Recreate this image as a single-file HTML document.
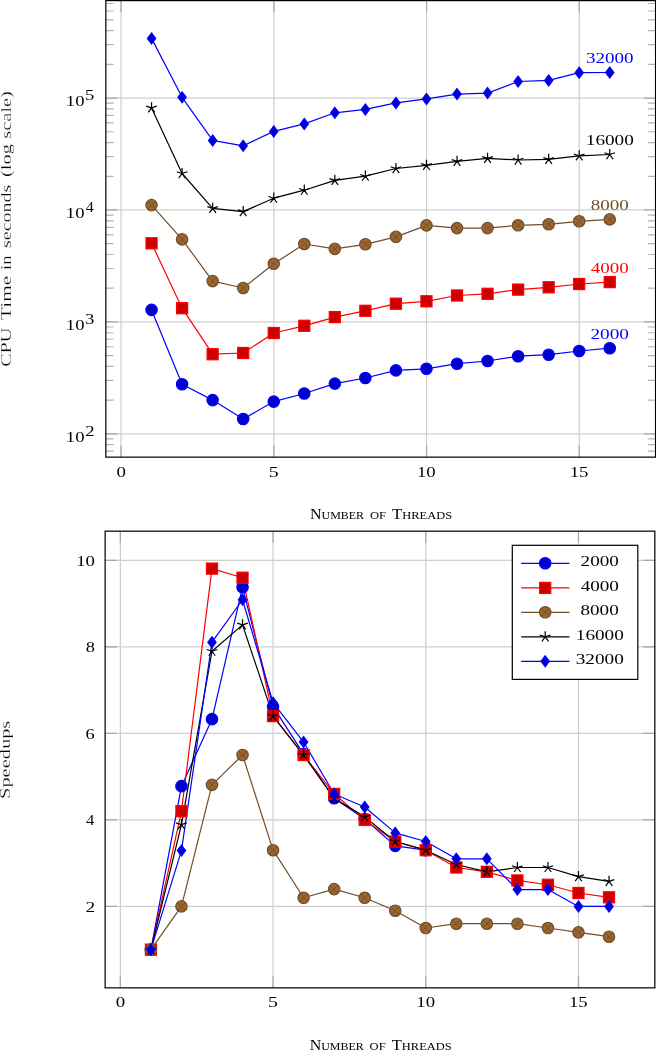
<!DOCTYPE html>
<html><head><meta charset="utf-8"><style>
html,body{margin:0;padding:0;background:#fff;}
svg{display:block;will-change:transform;}
text{font-family:"Liberation Serif",serif;}
.e{stroke:#fff;stroke-width:0.3px;vector-effect:non-scaling-stroke;}
</style></head><body>
<svg width="656" height="1050" viewBox="0 0 656 1050">
<rect width="656" height="1050" fill="#fff"/>
<g>
<path d="M121.00 0.60V457.15M273.90 0.60V457.15M426.55 0.60V457.15M579.20 0.60V457.15M105.84 433.87H655.55M105.84 321.87H655.55M105.84 209.87H655.55M105.84 98.17H655.55" stroke="#cfcfcf" stroke-width="1.2" fill="none"/>
<path d="M121.00 0.60v11.7M121.00 457.15v-11.7M273.90 0.60v11.7M273.90 457.15v-11.7M426.55 0.60v11.7M426.55 457.15v-11.7M579.20 0.60v11.7M579.20 457.15v-11.7M105.84 433.87h11.7M655.55 433.87h-11.7M105.84 321.87h11.7M655.55 321.87h-11.7M105.84 209.87h11.7M655.55 209.87h-11.7M105.84 98.17h11.7M655.55 98.17h-11.7" stroke="#a8a8a8" stroke-width="1.2" fill="none"/>
<path d="M105.84 451.15h7.8M655.55 451.15h-7.8M105.84 444.66h7.8M655.55 444.66h-7.8M105.84 438.93h7.8M655.55 438.93h-7.8M105.84 400.12h7.8M655.55 400.12h-7.8M105.84 380.42h7.8M655.55 380.42h-7.8M105.84 366.43h7.8M655.55 366.43h-7.8M105.84 355.59h7.8M655.55 355.59h-7.8M105.84 346.73h7.8M655.55 346.73h-7.8M105.84 339.24h7.8M655.55 339.24h-7.8M105.84 332.75h7.8M655.55 332.75h-7.8M105.84 327.02h7.8M655.55 327.02h-7.8M105.84 288.21h7.8M655.55 288.21h-7.8M105.84 268.51h7.8M655.55 268.51h-7.8M105.84 254.52h7.8M655.55 254.52h-7.8M105.84 243.68h7.8M655.55 243.68h-7.8M105.84 234.82h7.8M655.55 234.82h-7.8M105.84 227.33h7.8M655.55 227.33h-7.8M105.84 220.84h7.8M655.55 220.84h-7.8M105.84 215.11h7.8M655.55 215.11h-7.8M105.84 176.30h7.8M655.55 176.30h-7.8M105.84 156.60h7.8M655.55 156.60h-7.8M105.84 142.61h7.8M655.55 142.61h-7.8M105.84 131.77h7.8M655.55 131.77h-7.8M105.84 122.91h7.8M655.55 122.91h-7.8M105.84 115.42h7.8M655.55 115.42h-7.8M105.84 108.93h7.8M655.55 108.93h-7.8M105.84 103.20h7.8M655.55 103.20h-7.8M105.84 64.39h7.8M655.55 64.39h-7.8M105.84 44.69h7.8M655.55 44.69h-7.8M105.84 30.70h7.8M655.55 30.70h-7.8M105.84 19.86h7.8M655.55 19.86h-7.8M105.84 11.00h7.8M655.55 11.00h-7.8M105.84 3.51h7.8M655.55 3.51h-7.8" stroke="#b4b4b4" stroke-width="1.2" fill="none"/>
<polyline points="151.55,309.90 182.09,384.30 212.64,400.10 243.19,419.00 273.74,401.60 304.28,393.50 334.83,383.60 365.38,378.00 395.92,370.40 426.47,368.80 457.02,363.70 487.56,361.00 518.11,356.20 548.66,354.70 579.20,351.00 609.75,348.20" fill="none" stroke="#0000ff" stroke-width="1.2" stroke-linejoin="round"/>
<polyline points="151.55,243.30 182.09,308.20 212.64,354.20 243.19,353.00 273.74,333.00 304.28,325.80 334.83,317.10 365.38,310.80 395.92,303.70 426.47,301.30 457.02,295.50 487.56,293.80 518.11,289.60 548.66,287.30 579.20,284.00 609.75,282.10" fill="none" stroke="#ff0000" stroke-width="1.2" stroke-linejoin="round"/>
<polyline points="151.55,205.10 182.09,239.40 212.64,281.10 243.19,288.00 273.74,263.80 304.28,244.00 334.83,248.90 365.38,244.30 395.92,236.90 426.47,225.40 457.02,228.10 487.56,228.10 518.11,225.30 548.66,224.30 579.20,221.30 609.75,219.40" fill="none" stroke="#734d26" stroke-width="1.2" stroke-linejoin="round"/>
<polyline points="151.55,107.90 182.09,173.50 212.64,208.40 243.19,211.60 273.74,198.20 304.28,190.20 334.83,180.40 365.38,176.20 395.92,168.50 426.47,165.30 457.02,161.30 487.56,158.40 518.11,160.00 548.66,159.30 579.20,155.80 609.75,154.50" fill="none" stroke="#000000" stroke-width="1.2" stroke-linejoin="round"/>
<polyline points="151.55,38.40 182.09,97.30 212.64,140.40 243.19,145.80 273.74,131.40 304.28,123.90 334.83,112.80 365.38,109.40 395.92,102.90 426.47,98.90 457.02,94.10 487.56,93.10 518.11,81.50 548.66,80.40 579.20,72.70 609.75,72.50" fill="none" stroke="#0000ff" stroke-width="1.2" stroke-linejoin="round"/>
<circle cx="151.55" cy="309.90" r="5.70" fill="#0000cc" stroke="#0000ff" stroke-width="1.2"/>
<circle cx="182.09" cy="384.30" r="5.70" fill="#0000cc" stroke="#0000ff" stroke-width="1.2"/>
<circle cx="212.64" cy="400.10" r="5.70" fill="#0000cc" stroke="#0000ff" stroke-width="1.2"/>
<circle cx="243.19" cy="419.00" r="5.70" fill="#0000cc" stroke="#0000ff" stroke-width="1.2"/>
<circle cx="273.74" cy="401.60" r="5.70" fill="#0000cc" stroke="#0000ff" stroke-width="1.2"/>
<circle cx="304.28" cy="393.50" r="5.70" fill="#0000cc" stroke="#0000ff" stroke-width="1.2"/>
<circle cx="334.83" cy="383.60" r="5.70" fill="#0000cc" stroke="#0000ff" stroke-width="1.2"/>
<circle cx="365.38" cy="378.00" r="5.70" fill="#0000cc" stroke="#0000ff" stroke-width="1.2"/>
<circle cx="395.92" cy="370.40" r="5.70" fill="#0000cc" stroke="#0000ff" stroke-width="1.2"/>
<circle cx="426.47" cy="368.80" r="5.70" fill="#0000cc" stroke="#0000ff" stroke-width="1.2"/>
<circle cx="457.02" cy="363.70" r="5.70" fill="#0000cc" stroke="#0000ff" stroke-width="1.2"/>
<circle cx="487.56" cy="361.00" r="5.70" fill="#0000cc" stroke="#0000ff" stroke-width="1.2"/>
<circle cx="518.11" cy="356.20" r="5.70" fill="#0000cc" stroke="#0000ff" stroke-width="1.2"/>
<circle cx="548.66" cy="354.70" r="5.70" fill="#0000cc" stroke="#0000ff" stroke-width="1.2"/>
<circle cx="579.20" cy="351.00" r="5.70" fill="#0000cc" stroke="#0000ff" stroke-width="1.2"/>
<circle cx="609.75" cy="348.20" r="5.70" fill="#0000cc" stroke="#0000ff" stroke-width="1.2"/>
<rect x="146.00" y="237.75" width="11.10" height="11.10" fill="#cc0000" stroke="#ff0000" stroke-width="1.2"/>
<rect x="176.54" y="302.65" width="11.10" height="11.10" fill="#cc0000" stroke="#ff0000" stroke-width="1.2"/>
<rect x="207.09" y="348.65" width="11.10" height="11.10" fill="#cc0000" stroke="#ff0000" stroke-width="1.2"/>
<rect x="237.64" y="347.45" width="11.10" height="11.10" fill="#cc0000" stroke="#ff0000" stroke-width="1.2"/>
<rect x="268.19" y="327.45" width="11.10" height="11.10" fill="#cc0000" stroke="#ff0000" stroke-width="1.2"/>
<rect x="298.73" y="320.25" width="11.10" height="11.10" fill="#cc0000" stroke="#ff0000" stroke-width="1.2"/>
<rect x="329.28" y="311.55" width="11.10" height="11.10" fill="#cc0000" stroke="#ff0000" stroke-width="1.2"/>
<rect x="359.83" y="305.25" width="11.10" height="11.10" fill="#cc0000" stroke="#ff0000" stroke-width="1.2"/>
<rect x="390.37" y="298.15" width="11.10" height="11.10" fill="#cc0000" stroke="#ff0000" stroke-width="1.2"/>
<rect x="420.92" y="295.75" width="11.10" height="11.10" fill="#cc0000" stroke="#ff0000" stroke-width="1.2"/>
<rect x="451.47" y="289.95" width="11.10" height="11.10" fill="#cc0000" stroke="#ff0000" stroke-width="1.2"/>
<rect x="482.01" y="288.25" width="11.10" height="11.10" fill="#cc0000" stroke="#ff0000" stroke-width="1.2"/>
<rect x="512.56" y="284.05" width="11.10" height="11.10" fill="#cc0000" stroke="#ff0000" stroke-width="1.2"/>
<rect x="543.11" y="281.75" width="11.10" height="11.10" fill="#cc0000" stroke="#ff0000" stroke-width="1.2"/>
<rect x="573.65" y="278.45" width="11.10" height="11.10" fill="#cc0000" stroke="#ff0000" stroke-width="1.2"/>
<rect x="604.20" y="276.55" width="11.10" height="11.10" fill="#cc0000" stroke="#ff0000" stroke-width="1.2"/>
<circle cx="151.55" cy="205.10" r="5.7" fill="#996633" stroke="#734d26" stroke-width="1.2"/><path d="M147.52 201.07L155.58 209.13M147.52 209.13L155.58 201.07" stroke="#734d26" stroke-width="0.96" fill="none"/>
<circle cx="182.09" cy="239.40" r="5.7" fill="#996633" stroke="#734d26" stroke-width="1.2"/><path d="M178.06 235.37L186.12 243.43M178.06 243.43L186.12 235.37" stroke="#734d26" stroke-width="0.96" fill="none"/>
<circle cx="212.64" cy="281.10" r="5.7" fill="#996633" stroke="#734d26" stroke-width="1.2"/><path d="M208.61 277.07L216.67 285.13M208.61 285.13L216.67 277.07" stroke="#734d26" stroke-width="0.96" fill="none"/>
<circle cx="243.19" cy="288.00" r="5.7" fill="#996633" stroke="#734d26" stroke-width="1.2"/><path d="M239.16 283.97L247.22 292.03M239.16 292.03L247.22 283.97" stroke="#734d26" stroke-width="0.96" fill="none"/>
<circle cx="273.74" cy="263.80" r="5.7" fill="#996633" stroke="#734d26" stroke-width="1.2"/><path d="M269.70 259.77L277.77 267.83M269.70 267.83L277.77 259.77" stroke="#734d26" stroke-width="0.96" fill="none"/>
<circle cx="304.28" cy="244.00" r="5.7" fill="#996633" stroke="#734d26" stroke-width="1.2"/><path d="M300.25 239.97L308.31 248.03M300.25 248.03L308.31 239.97" stroke="#734d26" stroke-width="0.96" fill="none"/>
<circle cx="334.83" cy="248.90" r="5.7" fill="#996633" stroke="#734d26" stroke-width="1.2"/><path d="M330.80 244.87L338.86 252.93M330.80 252.93L338.86 244.87" stroke="#734d26" stroke-width="0.96" fill="none"/>
<circle cx="365.38" cy="244.30" r="5.7" fill="#996633" stroke="#734d26" stroke-width="1.2"/><path d="M361.35 240.27L369.41 248.33M361.35 248.33L369.41 240.27" stroke="#734d26" stroke-width="0.96" fill="none"/>
<circle cx="395.92" cy="236.90" r="5.7" fill="#996633" stroke="#734d26" stroke-width="1.2"/><path d="M391.89 232.87L399.95 240.93M391.89 240.93L399.95 232.87" stroke="#734d26" stroke-width="0.96" fill="none"/>
<circle cx="426.47" cy="225.40" r="5.7" fill="#996633" stroke="#734d26" stroke-width="1.2"/><path d="M422.44 221.37L430.50 229.43M422.44 229.43L430.50 221.37" stroke="#734d26" stroke-width="0.96" fill="none"/>
<circle cx="457.02" cy="228.10" r="5.7" fill="#996633" stroke="#734d26" stroke-width="1.2"/><path d="M452.99 224.07L461.05 232.13M452.99 232.13L461.05 224.07" stroke="#734d26" stroke-width="0.96" fill="none"/>
<circle cx="487.56" cy="228.10" r="5.7" fill="#996633" stroke="#734d26" stroke-width="1.2"/><path d="M483.53 224.07L491.59 232.13M483.53 232.13L491.59 224.07" stroke="#734d26" stroke-width="0.96" fill="none"/>
<circle cx="518.11" cy="225.30" r="5.7" fill="#996633" stroke="#734d26" stroke-width="1.2"/><path d="M514.08 221.27L522.14 229.33M514.08 229.33L522.14 221.27" stroke="#734d26" stroke-width="0.96" fill="none"/>
<circle cx="548.66" cy="224.30" r="5.7" fill="#996633" stroke="#734d26" stroke-width="1.2"/><path d="M544.63 220.27L552.69 228.33M544.63 228.33L552.69 220.27" stroke="#734d26" stroke-width="0.96" fill="none"/>
<circle cx="579.20" cy="221.30" r="5.7" fill="#996633" stroke="#734d26" stroke-width="1.2"/><path d="M575.17 217.27L583.24 225.33M575.17 225.33L583.24 217.27" stroke="#734d26" stroke-width="0.96" fill="none"/>
<circle cx="609.75" cy="219.40" r="5.7" fill="#996633" stroke="#734d26" stroke-width="1.2"/><path d="M605.72 215.37L613.78 223.43M605.72 223.43L613.78 215.37" stroke="#734d26" stroke-width="0.96" fill="none"/>
<path d="M151.55 107.90L151.55 102.30M151.55 107.90L156.87 106.17M151.55 107.90L154.84 112.43M151.55 107.90L148.26 112.43M151.55 107.90L146.22 106.17" stroke="#000000" stroke-width="1.2" fill="none" stroke-linecap="butt"/>
<path d="M182.09 173.50L182.09 167.90M182.09 173.50L187.42 171.77M182.09 173.50L185.39 178.03M182.09 173.50L178.80 178.03M182.09 173.50L176.77 171.77" stroke="#000000" stroke-width="1.2" fill="none" stroke-linecap="butt"/>
<path d="M212.64 208.40L212.64 202.80M212.64 208.40L217.97 206.67M212.64 208.40L215.93 212.93M212.64 208.40L209.35 212.93M212.64 208.40L207.32 206.67" stroke="#000000" stroke-width="1.2" fill="none" stroke-linecap="butt"/>
<path d="M243.19 211.60L243.19 206.00M243.19 211.60L248.51 209.87M243.19 211.60L246.48 216.13M243.19 211.60L239.90 216.13M243.19 211.60L237.86 209.87" stroke="#000000" stroke-width="1.2" fill="none" stroke-linecap="butt"/>
<path d="M273.74 198.20L273.74 192.60M273.74 198.20L279.06 196.47M273.74 198.20L277.03 202.73M273.74 198.20L270.44 202.73M273.74 198.20L268.41 196.47" stroke="#000000" stroke-width="1.2" fill="none" stroke-linecap="butt"/>
<path d="M304.28 190.20L304.28 184.60M304.28 190.20L309.61 188.47M304.28 190.20L307.57 194.73M304.28 190.20L300.99 194.73M304.28 190.20L298.96 188.47" stroke="#000000" stroke-width="1.2" fill="none" stroke-linecap="butt"/>
<path d="M334.83 180.40L334.83 174.80M334.83 180.40L340.15 178.67M334.83 180.40L338.12 184.93M334.83 180.40L331.54 184.93M334.83 180.40L329.50 178.67" stroke="#000000" stroke-width="1.2" fill="none" stroke-linecap="butt"/>
<path d="M365.38 176.20L365.38 170.60M365.38 176.20L370.70 174.47M365.38 176.20L368.67 180.73M365.38 176.20L362.08 180.73M365.38 176.20L360.05 174.47" stroke="#000000" stroke-width="1.2" fill="none" stroke-linecap="butt"/>
<path d="M395.92 168.50L395.92 162.90M395.92 168.50L401.25 166.77M395.92 168.50L399.21 173.03M395.92 168.50L392.63 173.03M395.92 168.50L390.60 166.77" stroke="#000000" stroke-width="1.2" fill="none" stroke-linecap="butt"/>
<path d="M426.47 165.30L426.47 159.70M426.47 165.30L431.80 163.57M426.47 165.30L429.76 169.83M426.47 165.30L423.18 169.83M426.47 165.30L421.14 163.57" stroke="#000000" stroke-width="1.2" fill="none" stroke-linecap="butt"/>
<path d="M457.02 161.30L457.02 155.70M457.02 161.30L462.34 159.57M457.02 161.30L460.31 165.83M457.02 161.30L453.73 165.83M457.02 161.30L451.69 159.57" stroke="#000000" stroke-width="1.2" fill="none" stroke-linecap="butt"/>
<path d="M487.56 158.40L487.56 152.80M487.56 158.40L492.89 156.67M487.56 158.40L490.86 162.93M487.56 158.40L484.27 162.93M487.56 158.40L482.24 156.67" stroke="#000000" stroke-width="1.2" fill="none" stroke-linecap="butt"/>
<path d="M518.11 160.00L518.11 154.40M518.11 160.00L523.44 158.27M518.11 160.00L521.40 164.53M518.11 160.00L514.82 164.53M518.11 160.00L512.79 158.27" stroke="#000000" stroke-width="1.2" fill="none" stroke-linecap="butt"/>
<path d="M548.66 159.30L548.66 153.70M548.66 159.30L553.98 157.57M548.66 159.30L551.95 163.83M548.66 159.30L545.37 163.83M548.66 159.30L543.33 157.57" stroke="#000000" stroke-width="1.2" fill="none" stroke-linecap="butt"/>
<path d="M579.20 155.80L579.20 150.20M579.20 155.80L584.53 154.07M579.20 155.80L582.50 160.33M579.20 155.80L575.91 160.33M579.20 155.80L573.88 154.07" stroke="#000000" stroke-width="1.2" fill="none" stroke-linecap="butt"/>
<path d="M609.75 154.50L609.75 148.90M609.75 154.50L615.08 152.77M609.75 154.50L613.04 159.03M609.75 154.50L606.46 159.03M609.75 154.50L604.43 152.77" stroke="#000000" stroke-width="1.2" fill="none" stroke-linecap="butt"/>
<path d="M151.55 32.90L155.70 38.40L151.55 43.90L147.40 38.40Z" fill="#0000cc" stroke="#0000ff" stroke-width="1.2" stroke-linejoin="miter"/>
<path d="M182.09 91.80L186.24 97.30L182.09 102.80L177.94 97.30Z" fill="#0000cc" stroke="#0000ff" stroke-width="1.2" stroke-linejoin="miter"/>
<path d="M212.64 134.90L216.79 140.40L212.64 145.90L208.49 140.40Z" fill="#0000cc" stroke="#0000ff" stroke-width="1.2" stroke-linejoin="miter"/>
<path d="M243.19 140.30L247.34 145.80L243.19 151.30L239.04 145.80Z" fill="#0000cc" stroke="#0000ff" stroke-width="1.2" stroke-linejoin="miter"/>
<path d="M273.74 125.90L277.88 131.40L273.74 136.90L269.59 131.40Z" fill="#0000cc" stroke="#0000ff" stroke-width="1.2" stroke-linejoin="miter"/>
<path d="M304.28 118.40L308.43 123.90L304.28 129.40L300.13 123.90Z" fill="#0000cc" stroke="#0000ff" stroke-width="1.2" stroke-linejoin="miter"/>
<path d="M334.83 107.30L338.98 112.80L334.83 118.30L330.68 112.80Z" fill="#0000cc" stroke="#0000ff" stroke-width="1.2" stroke-linejoin="miter"/>
<path d="M365.38 103.90L369.53 109.40L365.38 114.90L361.23 109.40Z" fill="#0000cc" stroke="#0000ff" stroke-width="1.2" stroke-linejoin="miter"/>
<path d="M395.92 97.40L400.07 102.90L395.92 108.40L391.77 102.90Z" fill="#0000cc" stroke="#0000ff" stroke-width="1.2" stroke-linejoin="miter"/>
<path d="M426.47 93.40L430.62 98.90L426.47 104.40L422.32 98.90Z" fill="#0000cc" stroke="#0000ff" stroke-width="1.2" stroke-linejoin="miter"/>
<path d="M457.02 88.60L461.17 94.10L457.02 99.60L452.87 94.10Z" fill="#0000cc" stroke="#0000ff" stroke-width="1.2" stroke-linejoin="miter"/>
<path d="M487.56 87.60L491.71 93.10L487.56 98.60L483.41 93.10Z" fill="#0000cc" stroke="#0000ff" stroke-width="1.2" stroke-linejoin="miter"/>
<path d="M518.11 76.00L522.26 81.50L518.11 87.00L513.96 81.50Z" fill="#0000cc" stroke="#0000ff" stroke-width="1.2" stroke-linejoin="miter"/>
<path d="M548.66 74.90L552.81 80.40L548.66 85.90L544.51 80.40Z" fill="#0000cc" stroke="#0000ff" stroke-width="1.2" stroke-linejoin="miter"/>
<path d="M579.20 67.20L583.35 72.70L579.20 78.20L575.05 72.70Z" fill="#0000cc" stroke="#0000ff" stroke-width="1.2" stroke-linejoin="miter"/>
<path d="M609.75 67.00L613.90 72.50L609.75 78.00L605.60 72.50Z" fill="#0000cc" stroke="#0000ff" stroke-width="1.2" stroke-linejoin="miter"/>
<rect x="105.84" y="0.60" width="549.71" height="456.55" fill="none" stroke="#000" stroke-width="1.22"/>
</g>
<text transform="translate(65.86,441.76) scale(1.2774,1)" font-size="14.6" fill="#000" >10</text>
<text transform="translate(85.18,435.76) scale(1.3553,1)" font-size="13.8" fill="#000" >2</text>
<text transform="translate(65.86,329.85) scale(1.2774,1)" font-size="14.6" fill="#000" >10</text>
<text transform="translate(85.13,323.85) scale(1.3159,1)" font-size="13.8" fill="#000" >3</text>
<text transform="translate(65.86,217.94) scale(1.2774,1)" font-size="14.6" fill="#000" >10</text>
<text transform="translate(85.69,211.94) scale(1.1688,1)" font-size="13.8" fill="#000" >4</text>
<text transform="translate(65.86,106.03) scale(1.2774,1)" font-size="14.6" fill="#000" >10</text>
<text transform="translate(84.92,100.03) scale(1.3486,1)" font-size="13.8" fill="#000" >5</text>
<text transform="translate(116.38,476.75) scale(1.2923,1)" font-size="14.6" fill="#000" >0</text>
<text transform="translate(268.68,476.75) scale(1.3597,1)" font-size="14.6" fill="#000" >5</text>
<text transform="translate(416.97,476.75) scale(1.2852,1)" font-size="14.6" fill="#000" >10</text>
<text transform="translate(569.70,476.75) scale(1.2867,1)" font-size="14.6" fill="#000" >15</text>
<text transform="translate(310.04,519.30) scale(1.0638,1)" font-size="15.0">N<tspan font-size="11.25">UMBER</tspan></text>
<text transform="translate(369.98,519.30) scale(1.1176,1)" font-size="11.25">OF</text>
<text transform="translate(392.10,519.30) scale(1.1089,1)" font-size="15.0">T<tspan font-size="11.25">HREADS</tspan></text>
<text transform="translate(11.10,366.83) rotate(-90) scale(1.3600,1)" font-size="14.8" fill="#000" class="e">CPU</text>
<text transform="translate(11.10,319.88) rotate(-90) scale(1.4302,1)" font-size="14.8" fill="#000" class="e">Time</text>
<text transform="translate(11.10,269.89) rotate(-90) scale(1.2566,1)" font-size="14.8" fill="#000" class="e">in</text>
<text transform="translate(11.10,247.92) rotate(-90) scale(1.3518,1)" font-size="14.8" fill="#000" class="e">seconds</text>
<text transform="translate(11.10,176.90) rotate(-90) scale(1.3749,1)" font-size="14.8" fill="#000" class="e">(log</text>
<text transform="translate(11.10,138.74) rotate(-90) scale(1.3772,1)" font-size="14.8" fill="#000" class="e">scale)</text>
<text transform="translate(590.45,338.60) scale(1.3213,1)" font-size="14.6" fill="#0000ff" >2000</text>
<text transform="translate(590.74,272.50) scale(1.3043,1)" font-size="14.6" fill="#ff0000" >4000</text>
<text transform="translate(590.68,209.80) scale(1.3029,1)" font-size="14.6" fill="#734d26" >8000</text>
<text transform="translate(585.81,144.80) scale(1.3156,1)" font-size="14.6" fill="#000000" >16000</text>
<text transform="translate(585.89,63.00) scale(1.3052,1)" font-size="14.6" fill="#0000ff" >32000</text>
<g>
<path d="M120.37 531.17V987.85M273.07 531.17V987.85M425.77 531.17V987.85M578.47 531.17V987.85M105.13 906.41H654.83M105.13 819.91H654.83M105.13 733.41H654.83M105.13 646.91H654.83M105.13 560.41H654.83" stroke="#cfcfcf" stroke-width="1.2" fill="none"/>
<path d="M120.37 531.17v11.7M120.37 987.85v-11.7M273.07 531.17v11.7M273.07 987.85v-11.7M425.77 531.17v11.7M425.77 987.85v-11.7M578.47 531.17v11.7M578.47 987.85v-11.7M105.13 906.41h11.7M654.83 906.41h-11.7M105.13 819.91h11.7M654.83 819.91h-11.7M105.13 733.41h11.7M654.83 733.41h-11.7M105.13 646.91h11.7M654.83 646.91h-11.7M105.13 560.41h11.7M654.83 560.41h-11.7" stroke="#a8a8a8" stroke-width="1.2" fill="none"/>
<polyline points="150.91,949.66 181.45,786.17 211.99,719.14 242.53,587.22 273.07,706.60 303.61,754.17 334.15,798.28 364.69,819.04 395.23,845.86 425.77,850.18" fill="none" stroke="#0000ff" stroke-width="1.2" stroke-linejoin="round"/>
<polyline points="150.91,949.66 181.45,811.26 211.99,568.63 242.53,577.71 273.07,716.11 303.61,755.03 334.15,793.96 364.69,819.91 395.23,841.53 425.77,850.18 456.31,867.48 486.85,871.81 517.39,880.46 547.93,884.78 578.47,893.00 609.01,897.33" fill="none" stroke="#ff0000" stroke-width="1.2" stroke-linejoin="round"/>
<polyline points="150.91,949.66 181.45,906.41 211.99,784.88 242.53,755.03 273.07,850.18 303.61,897.76 334.15,889.11 364.69,897.76 395.23,910.73 425.77,928.03 456.31,923.71 486.85,923.71 517.39,923.71 547.93,928.03 578.47,932.36 609.01,936.68" fill="none" stroke="#734d26" stroke-width="1.2" stroke-linejoin="round"/>
<polyline points="150.91,949.66 181.45,824.67 211.99,651.23 242.53,624.85 273.07,716.11 303.61,755.03 334.15,798.28 364.69,816.88 395.23,841.53 425.77,850.18 456.31,864.46 486.85,871.81 517.39,867.48 547.93,867.48 578.47,876.57 609.01,881.33" fill="none" stroke="#000000" stroke-width="1.2" stroke-linejoin="round"/>
<polyline points="150.91,949.66 181.45,850.62 211.99,642.15 242.53,599.77 273.07,702.70 303.61,742.06 334.15,793.96 364.69,806.93 395.23,832.88 425.77,841.53 456.31,858.84 486.85,858.84 517.39,889.54 547.93,889.54 578.47,906.41 609.01,906.41" fill="none" stroke="#0000ff" stroke-width="1.2" stroke-linejoin="round"/>
<circle cx="150.91" cy="949.66" r="5.70" fill="#0000cc" stroke="#0000ff" stroke-width="1.2"/>
<circle cx="181.45" cy="786.17" r="5.70" fill="#0000cc" stroke="#0000ff" stroke-width="1.2"/>
<circle cx="211.99" cy="719.14" r="5.70" fill="#0000cc" stroke="#0000ff" stroke-width="1.2"/>
<circle cx="242.53" cy="587.22" r="5.70" fill="#0000cc" stroke="#0000ff" stroke-width="1.2"/>
<circle cx="273.07" cy="706.60" r="5.70" fill="#0000cc" stroke="#0000ff" stroke-width="1.2"/>
<circle cx="303.61" cy="754.17" r="5.70" fill="#0000cc" stroke="#0000ff" stroke-width="1.2"/>
<circle cx="334.15" cy="798.28" r="5.70" fill="#0000cc" stroke="#0000ff" stroke-width="1.2"/>
<circle cx="364.69" cy="819.04" r="5.70" fill="#0000cc" stroke="#0000ff" stroke-width="1.2"/>
<circle cx="395.23" cy="845.86" r="5.70" fill="#0000cc" stroke="#0000ff" stroke-width="1.2"/>
<circle cx="425.77" cy="850.18" r="5.70" fill="#0000cc" stroke="#0000ff" stroke-width="1.2"/>
<rect x="145.36" y="944.11" width="11.10" height="11.10" fill="#cc0000" stroke="#ff0000" stroke-width="1.2"/>
<rect x="175.90" y="805.71" width="11.10" height="11.10" fill="#cc0000" stroke="#ff0000" stroke-width="1.2"/>
<rect x="206.44" y="563.08" width="11.10" height="11.10" fill="#cc0000" stroke="#ff0000" stroke-width="1.2"/>
<rect x="236.98" y="572.16" width="11.10" height="11.10" fill="#cc0000" stroke="#ff0000" stroke-width="1.2"/>
<rect x="267.52" y="710.56" width="11.10" height="11.10" fill="#cc0000" stroke="#ff0000" stroke-width="1.2"/>
<rect x="298.06" y="749.49" width="11.10" height="11.10" fill="#cc0000" stroke="#ff0000" stroke-width="1.2"/>
<rect x="328.60" y="788.41" width="11.10" height="11.10" fill="#cc0000" stroke="#ff0000" stroke-width="1.2"/>
<rect x="359.14" y="814.36" width="11.10" height="11.10" fill="#cc0000" stroke="#ff0000" stroke-width="1.2"/>
<rect x="389.68" y="835.99" width="11.10" height="11.10" fill="#cc0000" stroke="#ff0000" stroke-width="1.2"/>
<rect x="420.22" y="844.63" width="11.10" height="11.10" fill="#cc0000" stroke="#ff0000" stroke-width="1.2"/>
<rect x="450.76" y="861.93" width="11.10" height="11.10" fill="#cc0000" stroke="#ff0000" stroke-width="1.2"/>
<rect x="481.30" y="866.26" width="11.10" height="11.10" fill="#cc0000" stroke="#ff0000" stroke-width="1.2"/>
<rect x="511.84" y="874.91" width="11.10" height="11.10" fill="#cc0000" stroke="#ff0000" stroke-width="1.2"/>
<rect x="542.38" y="879.24" width="11.10" height="11.10" fill="#cc0000" stroke="#ff0000" stroke-width="1.2"/>
<rect x="572.92" y="887.45" width="11.10" height="11.10" fill="#cc0000" stroke="#ff0000" stroke-width="1.2"/>
<rect x="603.46" y="891.78" width="11.10" height="11.10" fill="#cc0000" stroke="#ff0000" stroke-width="1.2"/>
<circle cx="150.91" cy="949.66" r="5.7" fill="#996633" stroke="#734d26" stroke-width="1.2"/><path d="M146.88 945.63L154.94 953.69M146.88 953.69L154.94 945.63" stroke="#734d26" stroke-width="0.96" fill="none"/>
<circle cx="181.45" cy="906.41" r="5.7" fill="#996633" stroke="#734d26" stroke-width="1.2"/><path d="M177.42 902.38L185.48 910.44M177.42 910.44L185.48 902.38" stroke="#734d26" stroke-width="0.96" fill="none"/>
<circle cx="211.99" cy="784.88" r="5.7" fill="#996633" stroke="#734d26" stroke-width="1.2"/><path d="M207.96 780.85L216.02 788.91M207.96 788.91L216.02 780.85" stroke="#734d26" stroke-width="0.96" fill="none"/>
<circle cx="242.53" cy="755.03" r="5.7" fill="#996633" stroke="#734d26" stroke-width="1.2"/><path d="M238.50 751.00L246.56 759.07M238.50 759.07L246.56 751.00" stroke="#734d26" stroke-width="0.96" fill="none"/>
<circle cx="273.07" cy="850.18" r="5.7" fill="#996633" stroke="#734d26" stroke-width="1.2"/><path d="M269.04 846.15L277.10 854.22M269.04 854.22L277.10 846.15" stroke="#734d26" stroke-width="0.96" fill="none"/>
<circle cx="303.61" cy="897.76" r="5.7" fill="#996633" stroke="#734d26" stroke-width="1.2"/><path d="M299.58 893.73L307.64 901.79M299.58 901.79L307.64 893.73" stroke="#734d26" stroke-width="0.96" fill="none"/>
<circle cx="334.15" cy="889.11" r="5.7" fill="#996633" stroke="#734d26" stroke-width="1.2"/><path d="M330.12 885.08L338.18 893.14M330.12 893.14L338.18 885.08" stroke="#734d26" stroke-width="0.96" fill="none"/>
<circle cx="364.69" cy="897.76" r="5.7" fill="#996633" stroke="#734d26" stroke-width="1.2"/><path d="M360.66 893.73L368.72 901.79M360.66 901.79L368.72 893.73" stroke="#734d26" stroke-width="0.96" fill="none"/>
<circle cx="395.23" cy="910.73" r="5.7" fill="#996633" stroke="#734d26" stroke-width="1.2"/><path d="M391.20 906.70L399.26 914.77M391.20 914.77L399.26 906.70" stroke="#734d26" stroke-width="0.96" fill="none"/>
<circle cx="425.77" cy="928.03" r="5.7" fill="#996633" stroke="#734d26" stroke-width="1.2"/><path d="M421.74 924.00L429.80 932.07M421.74 932.07L429.80 924.00" stroke="#734d26" stroke-width="0.96" fill="none"/>
<circle cx="456.31" cy="923.71" r="5.7" fill="#996633" stroke="#734d26" stroke-width="1.2"/><path d="M452.28 919.68L460.34 927.74M452.28 927.74L460.34 919.68" stroke="#734d26" stroke-width="0.96" fill="none"/>
<circle cx="486.85" cy="923.71" r="5.7" fill="#996633" stroke="#734d26" stroke-width="1.2"/><path d="M482.82 919.68L490.88 927.74M482.82 927.74L490.88 919.68" stroke="#734d26" stroke-width="0.96" fill="none"/>
<circle cx="517.39" cy="923.71" r="5.7" fill="#996633" stroke="#734d26" stroke-width="1.2"/><path d="M513.36 919.68L521.42 927.74M513.36 927.74L521.42 919.68" stroke="#734d26" stroke-width="0.96" fill="none"/>
<circle cx="547.93" cy="928.03" r="5.7" fill="#996633" stroke="#734d26" stroke-width="1.2"/><path d="M543.90 924.00L551.96 932.07M543.90 932.07L551.96 924.00" stroke="#734d26" stroke-width="0.96" fill="none"/>
<circle cx="578.47" cy="932.36" r="5.7" fill="#996633" stroke="#734d26" stroke-width="1.2"/><path d="M574.44 928.33L582.50 936.39M574.44 936.39L582.50 928.33" stroke="#734d26" stroke-width="0.96" fill="none"/>
<circle cx="609.01" cy="936.68" r="5.7" fill="#996633" stroke="#734d26" stroke-width="1.2"/><path d="M604.98 932.65L613.04 940.72M604.98 940.72L613.04 932.65" stroke="#734d26" stroke-width="0.96" fill="none"/>
<path d="M150.91 949.66L150.91 944.06M150.91 949.66L156.24 947.93M150.91 949.66L154.20 954.19M150.91 949.66L147.62 954.19M150.91 949.66L145.58 947.93" stroke="#000000" stroke-width="1.2" fill="none" stroke-linecap="butt"/>
<path d="M181.45 824.67L181.45 819.07M181.45 824.67L186.78 822.94M181.45 824.67L184.74 829.20M181.45 824.67L178.16 829.20M181.45 824.67L176.12 822.94" stroke="#000000" stroke-width="1.2" fill="none" stroke-linecap="butt"/>
<path d="M211.99 651.23L211.99 645.63M211.99 651.23L217.32 649.50M211.99 651.23L215.28 655.77M211.99 651.23L208.70 655.77M211.99 651.23L206.66 649.50" stroke="#000000" stroke-width="1.2" fill="none" stroke-linecap="butt"/>
<path d="M242.53 624.85L242.53 619.25M242.53 624.85L247.86 623.12M242.53 624.85L245.82 629.38M242.53 624.85L239.24 629.38M242.53 624.85L237.20 623.12" stroke="#000000" stroke-width="1.2" fill="none" stroke-linecap="butt"/>
<path d="M273.07 716.11L273.07 710.51M273.07 716.11L278.40 714.38M273.07 716.11L276.36 720.64M273.07 716.11L269.78 720.64M273.07 716.11L267.74 714.38" stroke="#000000" stroke-width="1.2" fill="none" stroke-linecap="butt"/>
<path d="M303.61 755.03L303.61 749.43M303.61 755.03L308.94 753.30M303.61 755.03L306.90 759.57M303.61 755.03L300.32 759.57M303.61 755.03L298.28 753.30" stroke="#000000" stroke-width="1.2" fill="none" stroke-linecap="butt"/>
<path d="M334.15 798.28L334.15 792.68M334.15 798.28L339.48 796.55M334.15 798.28L337.44 802.82M334.15 798.28L330.86 802.82M334.15 798.28L328.82 796.55" stroke="#000000" stroke-width="1.2" fill="none" stroke-linecap="butt"/>
<path d="M364.69 816.88L364.69 811.28M364.69 816.88L370.02 815.15M364.69 816.88L367.98 821.41M364.69 816.88L361.40 821.41M364.69 816.88L359.36 815.15" stroke="#000000" stroke-width="1.2" fill="none" stroke-linecap="butt"/>
<path d="M395.23 841.53L395.23 835.93M395.23 841.53L400.56 839.80M395.23 841.53L398.52 846.07M395.23 841.53L391.94 846.07M395.23 841.53L389.90 839.80" stroke="#000000" stroke-width="1.2" fill="none" stroke-linecap="butt"/>
<path d="M425.77 850.18L425.77 844.58M425.77 850.18L431.10 848.45M425.77 850.18L429.06 854.72M425.77 850.18L422.48 854.72M425.77 850.18L420.44 848.45" stroke="#000000" stroke-width="1.2" fill="none" stroke-linecap="butt"/>
<path d="M456.31 864.46L456.31 858.86M456.31 864.46L461.64 862.73M456.31 864.46L459.60 868.99M456.31 864.46L453.02 868.99M456.31 864.46L450.98 862.73" stroke="#000000" stroke-width="1.2" fill="none" stroke-linecap="butt"/>
<path d="M486.85 871.81L486.85 866.21M486.85 871.81L492.18 870.08M486.85 871.81L490.14 876.34M486.85 871.81L483.56 876.34M486.85 871.81L481.52 870.08" stroke="#000000" stroke-width="1.2" fill="none" stroke-linecap="butt"/>
<path d="M517.39 867.48L517.39 861.88M517.39 867.48L522.72 865.75M517.39 867.48L520.68 872.02M517.39 867.48L514.10 872.02M517.39 867.48L512.06 865.75" stroke="#000000" stroke-width="1.2" fill="none" stroke-linecap="butt"/>
<path d="M547.93 867.48L547.93 861.88M547.93 867.48L553.26 865.75M547.93 867.48L551.22 872.02M547.93 867.48L544.64 872.02M547.93 867.48L542.60 865.75" stroke="#000000" stroke-width="1.2" fill="none" stroke-linecap="butt"/>
<path d="M578.47 876.57L578.47 870.97M578.47 876.57L583.80 874.84M578.47 876.57L581.76 881.10M578.47 876.57L575.18 881.10M578.47 876.57L573.14 874.84" stroke="#000000" stroke-width="1.2" fill="none" stroke-linecap="butt"/>
<path d="M609.01 881.33L609.01 875.73M609.01 881.33L614.34 879.59M609.01 881.33L612.30 885.86M609.01 881.33L605.72 885.86M609.01 881.33L603.68 879.59" stroke="#000000" stroke-width="1.2" fill="none" stroke-linecap="butt"/>
<path d="M150.91 944.16L155.06 949.66L150.91 955.16L146.76 949.66Z" fill="#0000cc" stroke="#0000ff" stroke-width="1.2" stroke-linejoin="miter"/>
<path d="M181.45 845.12L185.60 850.62L181.45 856.12L177.30 850.62Z" fill="#0000cc" stroke="#0000ff" stroke-width="1.2" stroke-linejoin="miter"/>
<path d="M211.99 636.65L216.14 642.15L211.99 647.65L207.84 642.15Z" fill="#0000cc" stroke="#0000ff" stroke-width="1.2" stroke-linejoin="miter"/>
<path d="M242.53 594.27L246.68 599.77L242.53 605.27L238.38 599.77Z" fill="#0000cc" stroke="#0000ff" stroke-width="1.2" stroke-linejoin="miter"/>
<path d="M273.07 697.20L277.22 702.70L273.07 708.20L268.92 702.70Z" fill="#0000cc" stroke="#0000ff" stroke-width="1.2" stroke-linejoin="miter"/>
<path d="M303.61 736.56L307.76 742.06L303.61 747.56L299.46 742.06Z" fill="#0000cc" stroke="#0000ff" stroke-width="1.2" stroke-linejoin="miter"/>
<path d="M334.15 788.46L338.30 793.96L334.15 799.46L330.00 793.96Z" fill="#0000cc" stroke="#0000ff" stroke-width="1.2" stroke-linejoin="miter"/>
<path d="M364.69 801.43L368.84 806.93L364.69 812.43L360.54 806.93Z" fill="#0000cc" stroke="#0000ff" stroke-width="1.2" stroke-linejoin="miter"/>
<path d="M395.23 827.38L399.38 832.88L395.23 838.38L391.08 832.88Z" fill="#0000cc" stroke="#0000ff" stroke-width="1.2" stroke-linejoin="miter"/>
<path d="M425.77 836.03L429.92 841.53L425.77 847.03L421.62 841.53Z" fill="#0000cc" stroke="#0000ff" stroke-width="1.2" stroke-linejoin="miter"/>
<path d="M456.31 853.34L460.46 858.84L456.31 864.34L452.16 858.84Z" fill="#0000cc" stroke="#0000ff" stroke-width="1.2" stroke-linejoin="miter"/>
<path d="M486.85 853.34L491.00 858.84L486.85 864.34L482.70 858.84Z" fill="#0000cc" stroke="#0000ff" stroke-width="1.2" stroke-linejoin="miter"/>
<path d="M517.39 884.04L521.54 889.54L517.39 895.04L513.24 889.54Z" fill="#0000cc" stroke="#0000ff" stroke-width="1.2" stroke-linejoin="miter"/>
<path d="M547.93 884.04L552.08 889.54L547.93 895.04L543.78 889.54Z" fill="#0000cc" stroke="#0000ff" stroke-width="1.2" stroke-linejoin="miter"/>
<path d="M578.47 900.91L582.62 906.41L578.47 911.91L574.32 906.41Z" fill="#0000cc" stroke="#0000ff" stroke-width="1.2" stroke-linejoin="miter"/>
<path d="M609.01 900.91L613.16 906.41L609.01 911.91L604.86 906.41Z" fill="#0000cc" stroke="#0000ff" stroke-width="1.2" stroke-linejoin="miter"/>
<rect x="105.13" y="531.17" width="549.70" height="456.68" fill="none" stroke="#000" stroke-width="1.22"/>
</g>
<text transform="translate(85.54,911.61) scale(1.3323,1)" font-size="14.6" fill="#000" >2</text>
<text transform="translate(86.08,825.11) scale(1.1489,1)" font-size="14.6" fill="#000" >4</text>
<text transform="translate(85.61,738.61) scale(1.2512,1)" font-size="14.6" fill="#000" >6</text>
<text transform="translate(85.70,652.11) scale(1.2600,1)" font-size="14.6" fill="#000" >8</text>
<text transform="translate(76.15,565.61) scale(1.2852,1)" font-size="14.6" fill="#000" >10</text>
<text transform="translate(115.75,1007.45) scale(1.2923,1)" font-size="14.6" fill="#000" >0</text>
<text transform="translate(268.02,1007.45) scale(1.3597,1)" font-size="14.6" fill="#000" >5</text>
<text transform="translate(416.27,1007.45) scale(1.2852,1)" font-size="14.6" fill="#000" >10</text>
<text transform="translate(568.97,1007.45) scale(1.2867,1)" font-size="14.6" fill="#000" >15</text>
<text transform="translate(309.64,1049.50) scale(1.0638,1)" font-size="15.0">N<tspan font-size="11.25">UMBER</tspan></text>
<text transform="translate(369.58,1049.50) scale(1.1176,1)" font-size="11.25">OF</text>
<text transform="translate(391.70,1049.50) scale(1.1089,1)" font-size="15.0">T<tspan font-size="11.25">HREADS</tspan></text>
<text transform="translate(10.30,798.97) rotate(-90) scale(1.3803,1)" font-size="14.8" fill="#000" class="e">Speedups</text>
<rect x="512.3" y="545.3" width="125.50" height="134.10" fill="#fff" stroke="#000" stroke-width="1.2"/>
<path d="M521.2 563.30H569.4" stroke="#0000ff" stroke-width="1.2"/>
<circle cx="545.20" cy="563.30" r="5.70" fill="#0000cc" stroke="#0000ff" stroke-width="1.2"/>
<text transform="translate(580.56,566.30) scale(1.3142,1)" font-size="14.6" fill="#000" >2000</text>
<path d="M521.2 587.90H569.4" stroke="#ff0000" stroke-width="1.2"/>
<rect x="539.65" y="582.35" width="11.10" height="11.10" fill="#cc0000" stroke="#ff0000" stroke-width="1.2"/>
<text transform="translate(580.64,590.90) scale(1.3113,1)" font-size="14.6" fill="#000" >4000</text>
<path d="M521.2 612.30H569.4" stroke="#734d26" stroke-width="1.2"/>
<circle cx="545.20" cy="612.30" r="5.7" fill="#996633" stroke="#734d26" stroke-width="1.2"/><path d="M541.17 608.27L549.23 616.33M541.17 616.33L549.23 608.27" stroke="#734d26" stroke-width="0.96" fill="none"/>
<text transform="translate(580.47,615.30) scale(1.3101,1)" font-size="14.6" fill="#000" >8000</text>
<path d="M521.2 636.90H569.4" stroke="#000000" stroke-width="1.2"/>
<path d="M545.20 636.90L545.20 631.30M545.20 636.90L550.53 635.17M545.20 636.90L548.49 641.43M545.20 636.90L541.91 641.43M545.20 636.90L539.87 635.17" stroke="#000000" stroke-width="1.2" fill="none" stroke-linecap="butt"/>
<text transform="translate(575.81,639.90) scale(1.3156,1)" font-size="14.6" fill="#000" >16000</text>
<path d="M521.2 661.30H569.4" stroke="#0000ff" stroke-width="1.2"/>
<path d="M545.20 655.80L549.35 661.30L545.20 666.80L541.05 661.30Z" fill="#0000cc" stroke="#0000ff" stroke-width="1.2" stroke-linejoin="miter"/>
<text transform="translate(575.68,664.30) scale(1.3194,1)" font-size="14.6" fill="#000" >32000</text>
</svg></body></html>
